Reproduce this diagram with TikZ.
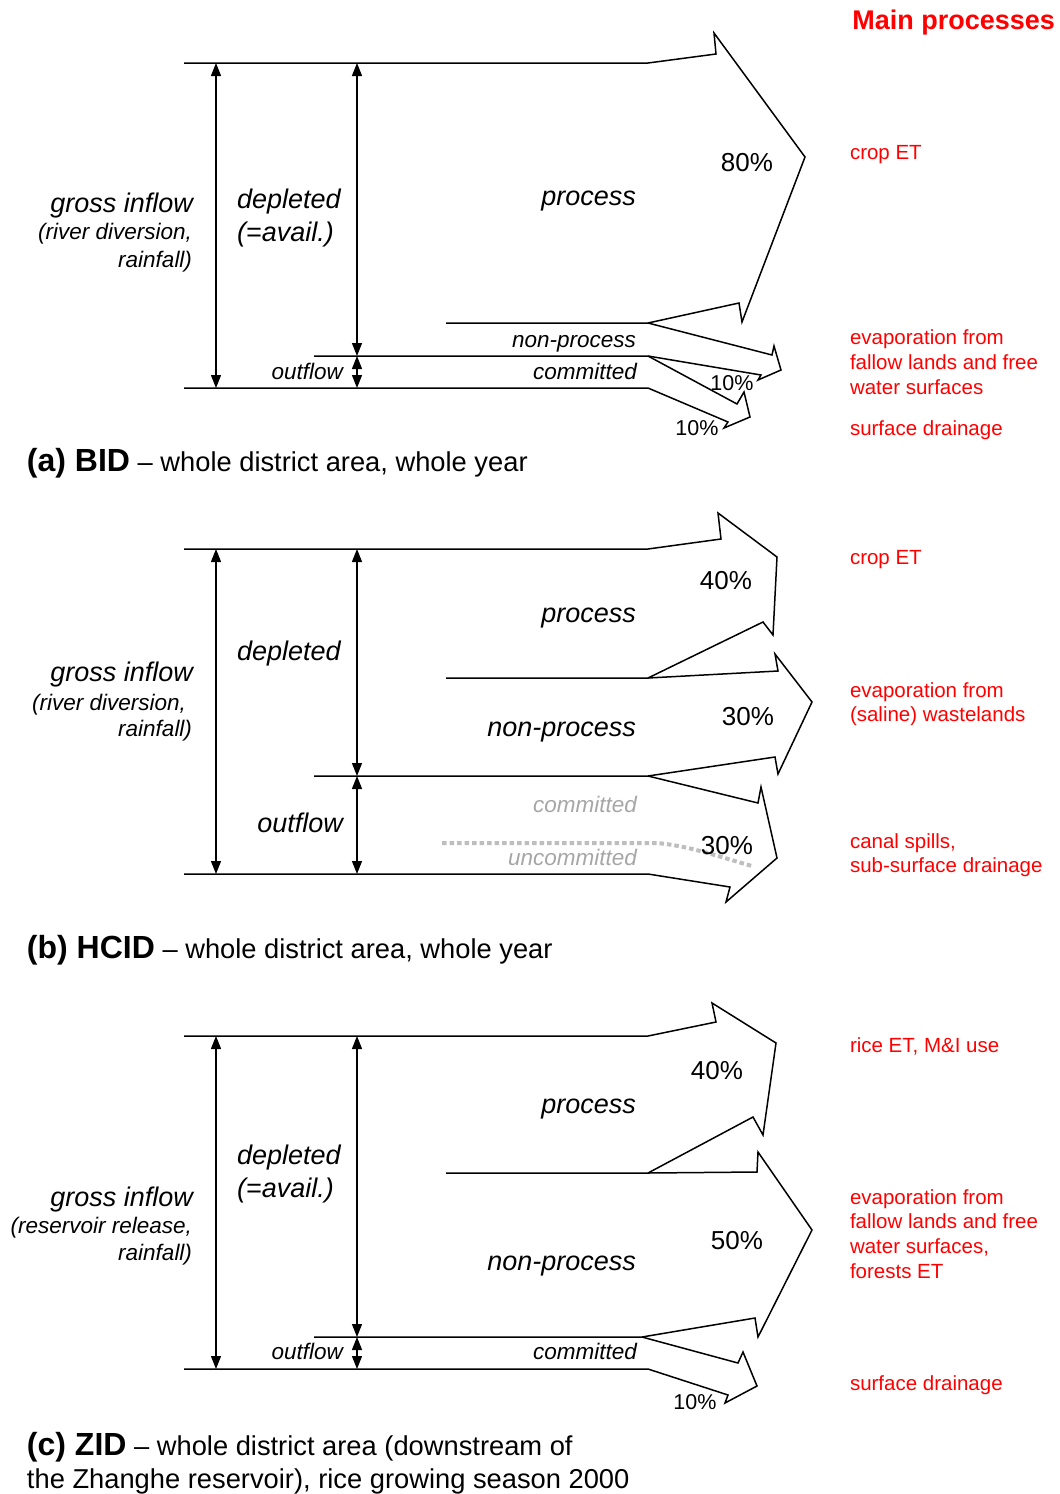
\documentclass[tikz,border=0pt]{standalone}
\usepackage{fontspec}
\setmainfont{Liberation Sans}
\usetikzlibrary{arrows.meta}
\definecolor{NoteRed}{HTML}{FF0000}
\definecolor{FadeGrey}{HTML}{A6A6A6}
\definecolor{DotGrey}{HTML}{BEBEBE}

\begin{document}
\begin{tikzpicture}[x=1pt,y=-1pt,
          every node/.style={inner sep=0pt,outer sep=0pt},
          flow/.style={draw=black,line width=1.5pt,line join=miter},
          dim/.style={draw=black,line width=1.2pt,
                      {Triangle[length=13pt,width=10pt]}-{Triangle[length=13pt,width=10pt]}},
          bigtxt/.style={font=\fontsize{27}{30}\selectfont\itshape,yshift=-7pt},
          midtxt/.style={font=\fontsize{22.5}{26}\selectfont\itshape,yshift=-5pt},
          pcttxt/.style={font=\fontsize{26}{30}\selectfont},
          smallpct/.style={font=\fontsize{21.5}{25}\selectfont},
          redtxt/.style={text=NoteRed,font=\fontsize{20.5}{25}\selectfont,
                         anchor=mid west,yshift=-5pt},
          captxt/.style={font=\fontsize{27.3}{30}\selectfont,anchor=mid west,yshift=-7pt}]
        \useasboundingbox (0,0) rectangle (1060,1494);

        % (a) BID
        \coordinate (aT) at (216,63);   \coordinate (aB) at (216,388);
        \coordinate (aDT) at (357,63);  \coordinate (aO) at (357,356);
        \coordinate (aOB) at (357,388);
        \draw[flow] (184,63) -- (648,63) -- (716,54) -- (714,33) -- (805,157)
                    -- (742,322) -- (739,303) -- (648,323) -- (446,323);
        \draw[flow] (648,323) -- (772,355) -- (774,346) -- (781,370)
                    -- (758,380) -- (761,375) -- (648,356) -- (314,356);
        \draw[flow] (648,356) -- (737,404) -- (744,392) -- (750,417)
                    -- (724,428) -- (728,422) -- (648,388) -- (184,388);
        \draw[dim] (aT) -- (aB);
        \draw[dim] (aDT) -- (aO);
        \draw[dim] (aO) -- (aOB);
        \node[bigtxt,anchor=mid east] (aGross) at (193,203) {gross inflow};
        \node[midtxt,anchor=mid east] (aSrc1) at (192,232) {(river diversion,};
        \node[midtxt,anchor=mid east] (aSrc2) at (192,260) {rainfall)};
        \node[bigtxt,anchor=mid west] (aDep1) at (237,199) {depleted};
        \node[bigtxt,anchor=mid west] (aDep2) at (237,232) {(=avail.)};
        \node[bigtxt,anchor=mid east] (aProc) at (636,196) {process};
        \node[midtxt,anchor=mid east] (aNon) at (636,340) {non-process};
        \node[midtxt,anchor=mid east] (aCom) at (637,372) {committed};
        \node[midtxt,anchor=mid east] (aOut) at (343,372) {outflow};
        \node[pcttxt] (aP80) at (747,163) {80\%};
        \node[smallpct] (aP10a) at (732,383) {10\%};
        \node[smallpct] (aP10b) at (697,428) {10\%};
        \node[captxt] (aCap) at (27,462)
            {{\fontsize{32}{34}\selectfont\bfseries (a) BID} -- whole district area, whole year};

        % (b) HCID
        \coordinate (bT) at (216,549);  \coordinate (bB) at (216,874);
        \coordinate (bDT) at (357,549); \coordinate (bO) at (357,776);
        \coordinate (bOB) at (357,874);
        \draw[flow] (184,549) -- (648,549) -- (721,539) -- (718,513) -- (777,557)
                    -- (773,635) -- (763,622) -- (648,678) -- (446,678);
        \draw[flow] (648,678) -- (778,671) -- (775,654) -- (812,702)
                    -- (778,774) -- (775,757) -- (648,776) -- (314,776);
        \draw[flow] (648,776) -- (758,803) -- (761,787) -- (777,858)
                    -- (726,902) -- (730,887) -- (648,874) -- (184,874);
        \draw[DotGrey,line width=4pt,dash pattern=on 4.5pt off 3pt]
            (442,843) -- (657,843) .. controls (690,846) and (720,857) .. (752,866);
        \draw[dim] (bT) -- (bB);
        \draw[dim] (bDT) -- (bO);
        \draw[dim] (bO) -- (bOB);
        \node[bigtxt,anchor=mid east] (bGross) at (193,672) {gross inflow};
        \node[midtxt,anchor=mid east] (bSrc1) at (186,703) {(river diversion,};
        \node[midtxt,anchor=mid east] (bSrc2) at (192,729) {rainfall)};
        \node[bigtxt,anchor=mid west] (bDep) at (237,651) {depleted};
        \node[bigtxt,anchor=mid east] (bProc) at (636,613) {process};
        \node[bigtxt,anchor=mid east] (bNon) at (636,727) {non-process};
        \node[bigtxt,anchor=mid east] (bOut) at (343,823) {outflow};
        \node[midtxt,anchor=mid east,text=FadeGrey] (bCom) at (637,805) {committed};
        \node[midtxt,anchor=mid east,text=FadeGrey] (bUnc) at (637,858) {uncommitted};
        \node[pcttxt] (bP40) at (726,581) {40\%};
        \node[pcttxt] (bP30a) at (748,717) {30\%};
        \node[pcttxt] (bP30b) at (727,846) {30\%};
        \node[captxt] (bCap) at (27,949)
            {{\fontsize{32}{34}\selectfont\bfseries (b) HCID} -- whole district area, whole year};

        % (c) ZID
        \coordinate (cT) at (216,1036);  \coordinate (cB) at (216,1369);
        \coordinate (cDT) at (357,1036); \coordinate (cO) at (357,1337);
        \coordinate (cOB) at (357,1369);
        \draw[flow] (184,1036) -- (648,1036) -- (716,1022) -- (712,1003) -- (776,1043)
                    -- (763,1135) -- (753,1117) -- (648,1173) -- (446,1173);
        \draw[flow] (648,1173) -- (757,1172) -- (758,1152) -- (812,1230)
                    -- (758,1337) -- (755,1318) -- (642,1337) -- (314,1337);
        \draw[flow] (642,1337) -- (738,1363) -- (743,1352) -- (757,1386)
                    -- (725,1403) -- (728,1395) -- (648,1369) -- (184,1369);
        \draw[dim] (cT) -- (cB);
        \draw[dim] (cDT) -- (cO);
        \draw[dim] (cO) -- (cOB);
        \node[bigtxt,anchor=mid east] (cGross) at (193,1197) {gross inflow};
        \node[midtxt,anchor=mid east] (cSrc1) at (192,1226) {(reservoir release,};
        \node[midtxt,anchor=mid east] (cSrc2) at (192,1253) {rainfall)};
        \node[bigtxt,anchor=mid west] (cDep1) at (237,1155) {depleted};
        \node[bigtxt,anchor=mid west] (cDep2) at (237,1188) {(=avail.)};
        \node[bigtxt,anchor=mid east] (cProc) at (636,1104) {process};
        \node[bigtxt,anchor=mid east] (cNon) at (636,1261) {non-process};
        \node[midtxt,anchor=mid east] (cOut) at (343,1352) {outflow};
        \node[midtxt,anchor=mid east] (cCom) at (637,1352) {committed};
        \node[pcttxt] (cP40) at (717,1071) {40\%};
        \node[pcttxt] (cP50) at (737,1241) {50\%};
        \node[smallpct] (cP10) at (695,1402) {10\%};
        \node[captxt] (cCap1) at (27,1446)
            {{\fontsize{32}{34}\selectfont\bfseries (c) ZID} -- whole district area (downstream of};
        \node[captxt] (cCap2) at (27,1479) {the Zhanghe reservoir), rice growing season 2000};

        % main processes
        \node[text=NoteRed,font=\fontsize{27}{30}\selectfont\bfseries,anchor=mid east,yshift=-7pt]
            (head) at (1055,20) {Main processes};
        \node[redtxt] (aN1) at (850,152) {crop ET};
        \node[redtxt] (aN2) at (850,337) {evaporation from};
        \node[redtxt] (aN3) at (850,362) {fallow lands and free};
        \node[redtxt] (aN4) at (850,387) {water surfaces};
        \node[redtxt] (aN5) at (850,428) {surface drainage};
        \node[redtxt] (bN1) at (850,557) {crop ET};
        \node[redtxt] (bN2) at (850,690) {evaporation from};
        \node[redtxt] (bN3) at (850,714) {(saline) wastelands};
        \node[redtxt] (bN4) at (850,841) {canal spills,};
        \node[redtxt] (bN5) at (850,865) {sub-surface drainage};
        \node[redtxt] (cN1) at (850,1045) {rice ET, M\&I use};
        \node[redtxt] (cN2) at (850,1197) {evaporation from};
        \node[redtxt] (cN3) at (850,1221) {fallow lands and free};
        \node[redtxt] (cN4) at (850,1246) {water surfaces,};
        \node[redtxt] (cN5) at (850,1271) {forests ET};
        \node[redtxt] (cN6) at (850,1383) {surface drainage};
      \end{tikzpicture}
\end{document}
